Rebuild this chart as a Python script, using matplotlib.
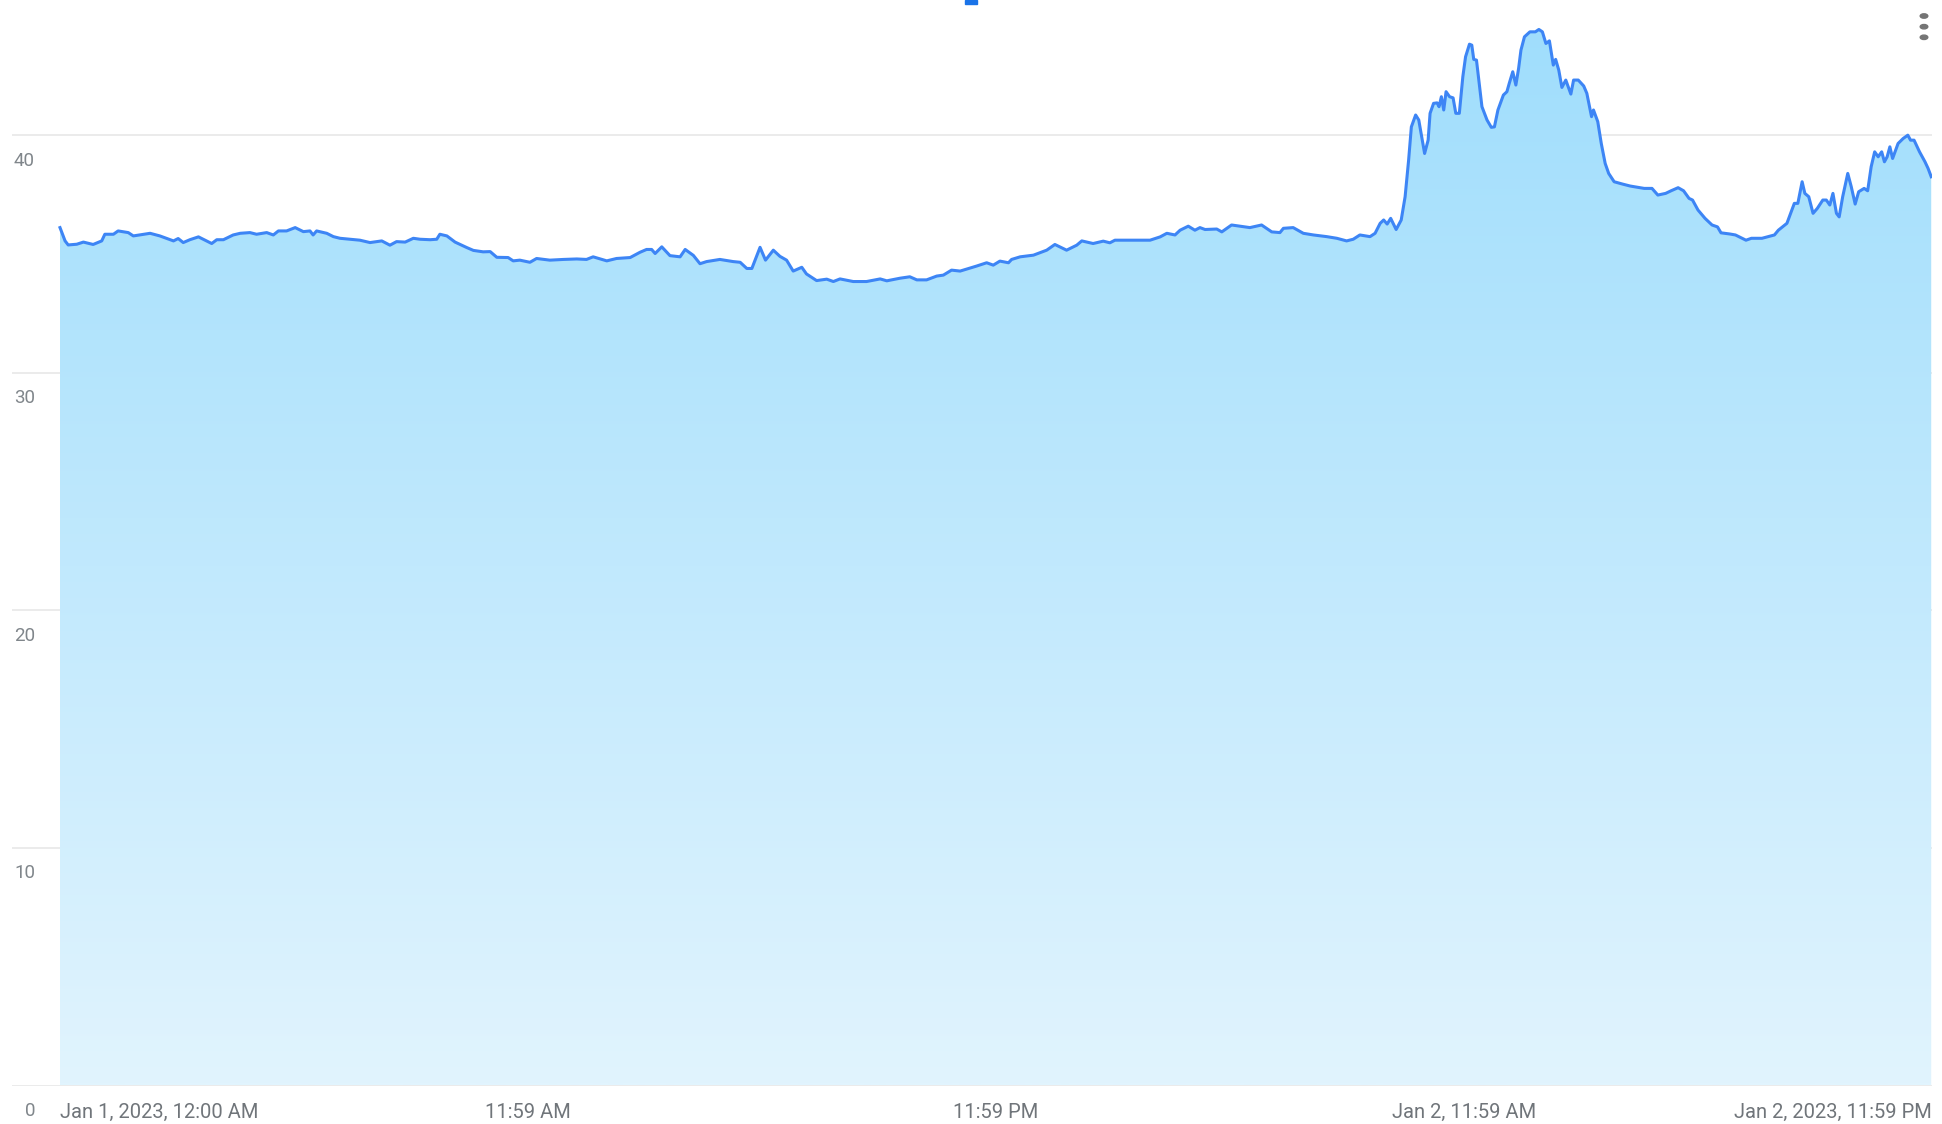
import numpy as np
import matplotlib
matplotlib.use("Agg")
import matplotlib.pyplot as plt
from matplotlib.transforms import ScaledTranslation
from matplotlib.patches import Rectangle, Circle

plt.rcParams['font.family'] = ['Roboto', 'DejaVu Sans']

# ---- data: hours since Jan 1, 2023 00:00 and values ----
hours = [
    0.00, 0.13, 0.21, 0.43, 0.60, 0.85, 1.07, 1.15, 1.37, 1.49, 1.75, 1.88, 2.31, 2.56, 2.91,
    3.03, 3.16, 3.33, 3.55, 3.89, 4.02, 4.19, 4.44, 4.62, 4.87, 5.04, 5.30, 5.47, 5.60, 5.81,
    6.03, 6.24, 6.41, 6.49, 6.58, 6.84, 7.01, 7.18, 7.44, 7.69, 7.95, 8.25, 8.46, 8.63, 8.85,
    9.06, 9.23, 9.49, 9.66, 9.74, 9.92, 10.13, 10.43, 10.60, 10.85, 11.03, 11.20, 11.49,
    11.62, 11.79, 12.05, 12.22, 12.56, 12.91, 13.25, 13.50, 13.67, 14.02, 14.27, 14.62, 14.87,
    15.04, 15.17, 15.26, 15.43, 15.64, 15.90, 16.03, 16.24, 16.41, 16.58, 16.92, 17.26, 17.44,
    17.61, 17.74, 17.95, 18.09, 18.29, 18.46, 18.63, 18.80, 19.02, 19.14, 19.40, 19.66, 19.83,
    20.00, 20.34, 20.68, 21.03, 21.20, 21.54, 21.79, 21.97, 22.22, 22.48, 22.65, 22.86, 23.08,
    23.50, 23.76, 23.93, 24.10, 24.32, 24.40, 24.62, 24.96, 25.30, 25.51, 25.81, 26.07, 26.20,
    26.49, 26.75, 26.92, 27.05, 27.35, 27.69, 27.95, 28.21, 28.38, 28.59, 28.72, 28.93, 29.10,
    29.23, 29.36, 29.66, 29.79, 30.04, 30.26, 30.51, 30.81, 31.07, 31.28, 31.37, 31.62, 31.88,
    32.14, 32.48, 32.74, 32.99, 33.16, 33.33, 33.59, 33.72,
    33.85, 33.94, 34.03, 34.12, 34.26, 34.39, 34.49, 34.58, 34.65, 34.76, 34.84, 34.99, 35.08,
    35.13, 35.22, 35.31, 35.36, 35.42, 35.48, 35.54, 35.63, 35.72, 35.79, 35.88, 35.97, 36.04,
    36.14, 36.20, 36.25, 36.32, 36.46, 36.59, 36.70, 36.78, 36.87, 37.01, 37.10, 37.16, 37.25,
    37.33, 37.40, 37.46, 37.55, 37.69, 37.83, 37.92, 38.01, 38.10, 38.19, 38.29, 38.35, 38.43,
    38.51, 38.61, 38.74, 38.81, 38.93, 39.07, 39.15, 39.27, 39.32, 39.43, 39.52, 39.62, 39.71,
    39.85, 40.07, 40.26, 40.62, 40.82, 40.97, 41.17, 41.31, 41.49, 41.63, 41.77, 41.86, 42.00,
    42.18, 42.36, 42.50, 42.59, 42.82, 42.96, 43.23, 43.37, 43.64, 43.96, 44.06, 44.28, 44.47,
    44.56, 44.67, 44.74, 44.84, 44.95, 45.06, 45.20, 45.29, 45.38, 45.46, 45.55, 45.62, 45.71,
    45.84, 45.93, 46.03, 46.12, 46.26, 46.35, 46.44, 46.53, 46.62, 46.71, 46.78, 46.85, 46.92,
    46.99, 47.13, 47.26, 47.38, 47.45, 47.54, 47.68, 47.82, 47.90, 47.98,
]
values = [
    36.11, 35.55, 35.38, 35.41, 35.50, 35.40, 35.55, 35.83, 35.83, 35.97, 35.90, 35.76, 35.87, 35.76, 35.55,
    35.65, 35.48, 35.60, 35.72, 35.44, 35.60, 35.60, 35.80, 35.87, 35.90, 35.83, 35.90, 35.80, 35.97, 35.97,
    36.11, 35.94, 35.97, 35.80, 35.97, 35.87, 35.73, 35.66, 35.62, 35.58, 35.48, 35.55, 35.37, 35.52, 35.50,
    35.66, 35.62, 35.60, 35.62, 35.83, 35.76, 35.50, 35.27, 35.15, 35.09, 35.10, 34.86, 34.85,
    34.71, 34.74, 34.65, 34.81, 34.74, 34.77, 34.79, 34.77, 34.88, 34.71, 34.81, 34.85, 35.07,
    35.19, 35.19, 35.02, 35.30, 34.93, 34.88, 35.19, 34.94, 34.59, 34.68, 34.77, 34.68, 34.65,
    34.39, 34.39, 35.28, 34.74, 35.16, 34.90, 34.74, 34.28, 34.44, 34.16, 33.88, 33.94, 33.84,
    33.95, 33.84, 33.84, 33.95, 33.87, 33.98, 34.04, 33.91, 33.91, 34.07, 34.11, 34.32, 34.28,
    34.49, 34.63, 34.53, 34.70, 34.63, 34.77, 34.88, 34.95, 35.16, 35.40, 35.16, 35.37, 35.55,
    35.44, 35.54, 35.47, 35.58, 35.58, 35.58, 35.58, 35.72, 35.87, 35.80, 36.00, 36.17, 36.00,
    36.11, 36.03, 36.05, 35.93, 36.22, 36.17, 36.11, 36.22, 35.93, 35.90, 36.08, 36.11, 35.87,
    35.80, 35.73, 35.66, 35.55, 35.62, 35.80, 35.73, 35.87,
    36.29, 36.43, 36.26, 36.50, 36.03, 36.43, 37.41, 38.95, 40.35, 40.85, 40.64, 39.23, 39.79,
    40.92, 41.34, 41.36, 41.20, 41.62, 41.06, 41.83, 41.62, 41.57, 40.92, 40.92, 42.46, 43.30,
    43.83, 43.79, 43.19, 43.16, 41.20, 40.64, 40.33, 40.35, 41.06, 41.69, 41.83, 42.18, 42.67,
    42.11, 42.81, 43.58, 44.14, 44.35, 44.35, 44.45, 44.35, 43.86, 43.97, 42.95, 43.19, 42.74,
    42.01, 42.32, 41.73, 42.32, 42.32, 42.07, 41.76, 40.78, 41.06, 40.57, 39.65, 38.81, 38.39,
    38.04, 37.94, 37.86, 37.76, 37.76, 37.48, 37.55, 37.66, 37.79, 37.66, 37.34, 37.27, 36.85,
    36.50, 36.22, 36.14, 35.89, 35.84, 35.80, 35.58, 35.66, 35.66, 35.80, 36.00, 36.29, 37.13,
    37.13, 38.04, 37.55, 37.41, 36.71, 36.92, 37.27, 37.27, 37.06, 37.55, 36.71, 36.56, 37.41,
    38.39, 37.83, 37.10, 37.62, 37.76, 37.66, 38.67, 39.30, 39.09, 39.30, 38.88, 39.09, 39.51,
    39.02, 39.65, 39.86, 40.00, 39.79, 39.79, 39.30, 38.88, 38.60, 38.25,
]
y_ticks = [0, 10, 20, 30, 40]
x_tick_hours = [0, 12, 24, 36, 48]
x_tick_labels = ["Jan 1, 2023, 12:00 AM", "11:59 AM", "11:59 PM",
                 "Jan 2, 11:59 AM", "Jan 2, 2023, 11:59 PM"]

# ---- figure geometry ----
W, H = 1942, 1124
fig = plt.figure(figsize=(W / 100, H / 100), dpi=100)
ax_left, ax_right = 12, 1932
ax_bottom_px, ax_top_px = 1085.5, 0
ax = fig.add_axes([ax_left / W, (H - ax_bottom_px) / H,
                   (ax_right - ax_left) / W, (ax_bottom_px - ax_top_px) / H])
px_per_hour = 39.0
xmin = -(60 - ax_left) / px_per_hour
xmax = 48.0
ymax = 45.69

for s in ax.spines.values():
    s.set_visible(False)
ax.set_xticks([])
ax.set_yticks([])

# gridlines
for v in y_ticks:
    ax.axhline(v, color="#ebebeb", lw=1.4, zorder=0)

# gradient fill under the line
poly = ax.fill_between(hours, values, 0, facecolor="none", edgecolor="none", zorder=1)
top_c = np.array([158, 221, 252]) / 255
bot_c = np.array([225, 244, 254]) / 255
n = 256
frac = np.linspace(0, 1, n)[:, None]
grad = (top_c[None, :] * (1 - frac) + bot_c[None, :] * frac)[:, None, :]
im = ax.imshow(grad, extent=[hours[0], hours[-1], 0, ymax], origin="upper",
               aspect="auto", zorder=1, interpolation="bilinear")
im.set_clip_path(poly.get_paths()[0], transform=ax.transData)

ax.plot(hours, values, color="#3d85f5", lw=2.2, zorder=3, solid_joinstyle="round")

ax.set_xlim(xmin, xmax)
ax.set_ylim(0, ymax)

# y labels, below each gridline
ytrans = ax.get_yaxis_transform()
for v in y_ticks:
    off = ScaledTranslation(23 / 100, -25.5 / 100, fig.dpi_scale_trans)
    ax.text(0, v, str(v), transform=ytrans + off,
            ha="right", va="center", fontsize=13.5, color="#80868b", clip_on=False)

# x labels
xtrans = ax.get_xaxis_transform()
for i, (h, lab) in enumerate(zip(x_tick_hours, x_tick_labels)):
    ha = "left" if i == 0 else ("right" if i == len(x_tick_hours) - 1 else "center")
    off = ScaledTranslation(0, -26.5 / 100, fig.dpi_scale_trans)
    ax.text(h, 0, lab, transform=xtrans + off, ha=ha, va="center",
            fontsize=14.5, color="#70757a", clip_on=False)

# top-center blue tab and menu dots
fig.patches.append(Rectangle((965 / W, 1 - 4 / H), 12 / W, 4 / H,
                             transform=fig.transFigure, color="#1a73e8"))
for yy in (16, 26.7, 37.3):
    fig.patches.append(Circle((1924 / W, 1 - yy / H), 3.8 / W,
                              transform=fig.transFigure, color="#757575"))

fig.savefig("out.png", dpi=100, facecolor="white")
